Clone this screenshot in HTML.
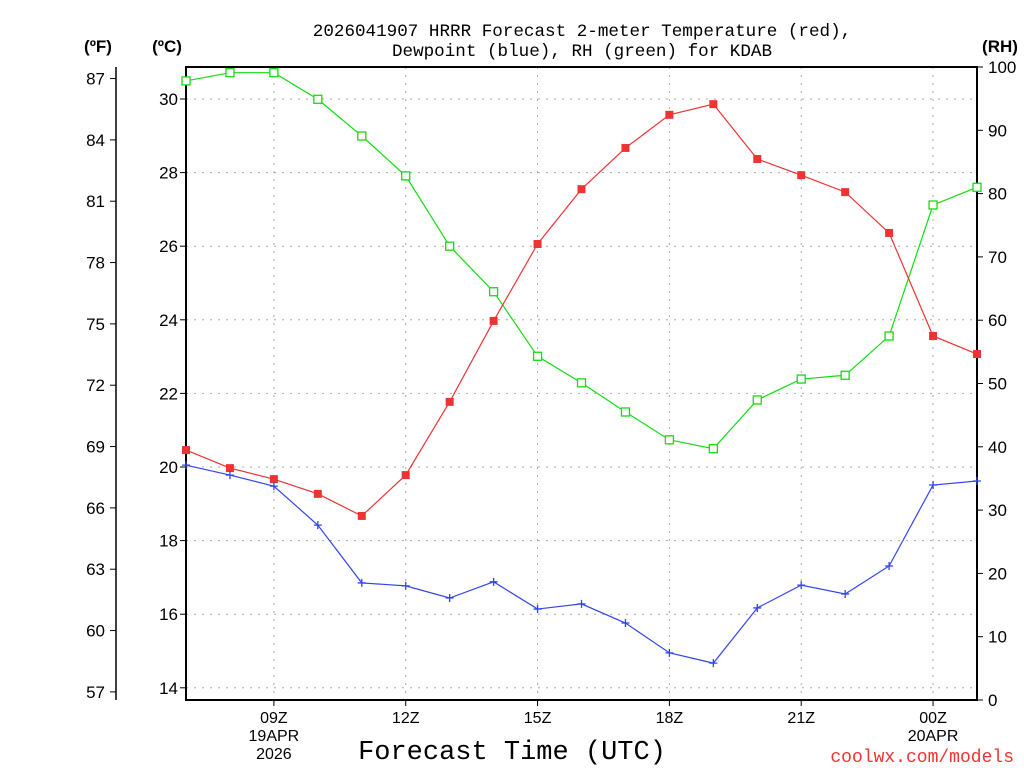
<!DOCTYPE html>
<html><head><meta charset="utf-8"><style>
body{margin:0;background:#fff;}
svg{display:block;font-family:"Liberation Sans","DejaVu Sans",sans-serif;}
.mono{font-family:"Liberation Mono","DejaVu Sans Mono",monospace;}
</style></head><body>
<svg id="chart" width="1024" height="768" viewBox="0 0 1024 768" xmlns="http://www.w3.org/2000/svg">
<rect width="1024" height="768" fill="#fff"/>
<text class="mono" x="582" y="36" font-size="17.6" text-anchor="middle">2026041907 HRRR Forecast 2-meter Temperature (red),</text>
<text class="mono" x="582" y="56" font-size="17.6" text-anchor="middle">Dewpoint (blue), RH (green) for KDAB</text>
<text x="98" y="52" font-size="17" font-weight="bold" text-anchor="middle">(ºF)</text>
<text x="167" y="52" font-size="17" font-weight="bold" text-anchor="middle">(ºC)</text>
<text x="1000" y="52" font-size="17" font-weight="bold" text-anchor="middle">(RH)</text>
<text class="mono" x="512" y="759" font-size="27" text-anchor="middle">Forecast Time (UTC)</text>
<text class="mono" x="1014" y="762" font-size="18" fill="#ee3333" text-anchor="end">coolwx.com/models</text>
<g id="grid"></g><g id="axes"></g><g id="series"></g>
</svg>
<script>
const hours = [7,8,9,10,11,12,13,14,15,16,17,18,19,20,21,22,23,24,25];
const tempC = [20.46,19.97,19.67,19.27,18.67,19.78,21.77,23.97,26.06,27.55,28.67,29.57,29.86,28.37,27.93,27.47,26.36,23.56,23.07];
const dewC = [20.05,19.78,19.48,18.42,16.85,16.77,16.44,16.88,16.14,16.28,15.76,14.95,14.67,16.17,16.79,16.55,17.31,19.51,19.62];
const rh = [97.8,99.1,99.1,94.9,89.1,82.8,71.7,64.5,54.3,50.1,45.5,41.1,39.7,47.4,50.7,51.3,57.5,78.2,81.0];
const cTicks = [14,16,18,20,22,24,26,28,30];
const fTicks = [57,60,63,66,69,72,75,78,81,84,87];
const rhTicks = [0,10,20,30,40,50,60,70,80,90,100];
const xTicks = [9,12,15,18,21,24];
const xLabels = ["09Z\n19APR\n2026","12Z","15Z","18Z","21Z","00Z\n20APR"];

const L=186,R=977,T=67,B=700;
const xs=h=>L+(h-7)*(R-L)/18;
const yc=c=>99+(30-c)*36.8;
const yf=f=>yc((f-32)/1.8);
const yr=r=>B-r*(B-T)/100;
const NS="http://www.w3.org/2000/svg";
function mk(tag,attrs,parent,txt){const e=document.createElementNS(NS,tag);for(const k in attrs)e.setAttribute(k,attrs[k]);if(txt!==undefined)e.textContent=txt;parent.appendChild(e);return e;}
const grid=document.getElementById('grid'),axes=document.getElementById('axes'),ser=document.getElementById('series');
cTicks.forEach(c=>{const y=yc(c);
 const g=mk('line',{x1:L,x2:R,y1:y,y2:y,stroke:'#aaa','stroke-dasharray':'2,6'},grid);
 
 mk('line',{x1:L-6,x2:L,y1:y,y2:y,stroke:'#000'},axes);
 const t=mk('text',{x:L-8,y:y+6,'font-size':17,'text-anchor':'end'},axes,c);
 });
xTicks.forEach((h,i)=>{const x=xs(h);
 const g=mk('line',{x1:x,x2:x,y1:T,y2:B,stroke:'#aaa','stroke-dasharray':'2,6'},grid);
 
 mk('line',{x1:x,x2:x,y1:B,y2:B+6,stroke:'#000'},axes);
 xLabels[i].split('\n').forEach((s,j)=>{const t=mk('text',{x:x,y:B+23+j*18,'font-size':16,'text-anchor':'middle'},axes,s);
 });});
const box=mk('rect',{x:L,y:T,width:R-L,height:B-T,fill:'none',stroke:'#000','stroke-width':2},axes);

mk('line',{x1:116,x2:116,y1:T,y2:B,stroke:'#000','stroke-width':1.5},axes);
fTicks.forEach(f=>{const y=yf(f);mk('line',{x1:110,x2:116,y1:y,y2:y,stroke:'#000'},axes);
 const t=mk('text',{x:105,y:y+6,'font-size':17,'text-anchor':'end'},axes,f);
 });
rhTicks.forEach(r=>{const y=yr(r);mk('line',{x1:R,x2:R+6,y1:y,y2:y,stroke:'#000'},axes);
 const t=mk('text',{x:R+11,y:y+6,'font-size':17,'text-anchor':'start'},axes,r);
 });
function line(vals,yfn,color,name){const pts=vals.map((v,i)=>xs(hours[i])+','+yfn(v)).join(' ');
 const p=mk('polyline',{points:pts,fill:'none',stroke:color,'stroke-width':1.2},ser);
 }
line(rh,yr,'#11dd11','rh');line(tempC,yc,'#ee3333','temperature');line(dewC,yc,'#3344ee','dewpoint');
rh.forEach((v,i)=>{const m=mk('rect',{x:xs(hours[i])-4,y:yr(v)-4,width:8,height:8,fill:'#fff',stroke:'#11dd11','stroke-width':1.3},ser);
 });
tempC.forEach((v,i)=>{const m=mk('rect',{x:xs(hours[i])-4,y:yc(v)-4,width:8,height:8,fill:'#ee3333'},ser);
 });
dewC.forEach((v,i)=>{const x=xs(hours[i]),y=yc(v);const m=mk('path',{d:`M${x-4} ${y}H${x+4}M${x} ${y-4}V${y+4}`,stroke:'#3344ee','stroke-width':1.3},ser);
 });
</script>
</body></html>
